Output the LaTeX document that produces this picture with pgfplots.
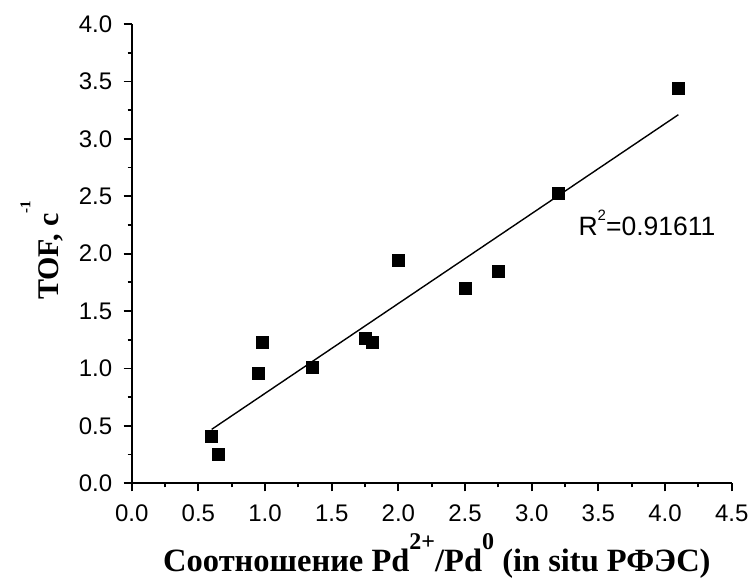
\documentclass[border=0pt]{standalone}
\usepackage{fontspec}
\setmainfont{Liberation Serif}
\setsansfont{Liberation Sans}
\usepackage{pgfplots}
\pgfplotsset{compat=1.18}
\pgfplotstableread{
x y
0.60 0.41
0.65 0.25
0.95 0.96
0.98 1.23
1.35 1.01
1.75 1.26
1.80 1.23
2.00 1.94
2.50 1.70
2.75 1.85
3.20 2.53
4.10 3.44
}\datatable
\newcommand{\tlfont}{\sffamily\fontsize{24}{24}\selectfont}
\begin{document}
\begin{tikzpicture}
\useasboundingbox (-131.7pt,-97.7pt) rectangle (617.3pt,483.3pt);
\begin{axis}[
  scale only axis, width=600pt, height=459.3pt,
  xmin=0, xmax=4.5, ymin=0, ymax=4,
  axis lines=left,
  axis line style={-, line width=1.8pt},
  xtick={0,0.5,1,1.5,2,2.5,3,3.5,4,4.5},
  ytick={0,0.5,1,1.5,2,2.5,3,3.5,4},
  xticklabels={0.0,0.5,1.0,1.5,2.0,2.5,3.0,3.5,4.0,4.5},
  yticklabels={0.0,0.5,1.0,1.5,2.0,2.5,3.0,3.5,4.0},
  minor x tick num=1, minor y tick num=1,
  tick align=outside,
  major tick length=8pt, minor tick length=4pt,
  every tick/.style={line width=1.8pt, black},
  tick label style={font=\tlfont},
  xticklabel style={yshift=-10pt},
  yticklabel style={xshift=-8pt},
  xlabel={\fontsize{32.5}{32.5}\selectfont\bfseries Соотношение Pd\raisebox{0.68em}{\fontsize{24}{24}\selectfont 2+}/Pd\raisebox{0.68em}{\fontsize{24}{24}\selectfont 0} (in situ РФЭС)},
  xlabel style={at={(axis description cs:0.0522,-0.193)}, anchor=base west, inner sep=0pt},
  ylabel={\fontsize{30}{30}\selectfont\bfseries TOF, c\raisebox{0.95em}{\fontsize{15}{15}\selectfont -1}},
  ylabel style={at={(axis description cs:-0.1212,0.399)}, anchor=base west, inner sep=0pt},
  clip=false,
]
\addplot[black, line width=1.4pt] coordinates {(0.6,0.47) (4.1,3.21)};
\addplot[only marks, mark=square*, mark size=6pt, black] table[x=x,y=y] {\datatable};
\node[anchor=west, inner sep=0pt, font=\sffamily\fontsize{26.5}{26.5}\selectfont] at (axis cs:3.35,2.27) {R\raisebox{0.55em}{\fontsize{15}{15}\selectfont 2}=0.91611};
\end{axis}
\end{tikzpicture}
\end{document}
